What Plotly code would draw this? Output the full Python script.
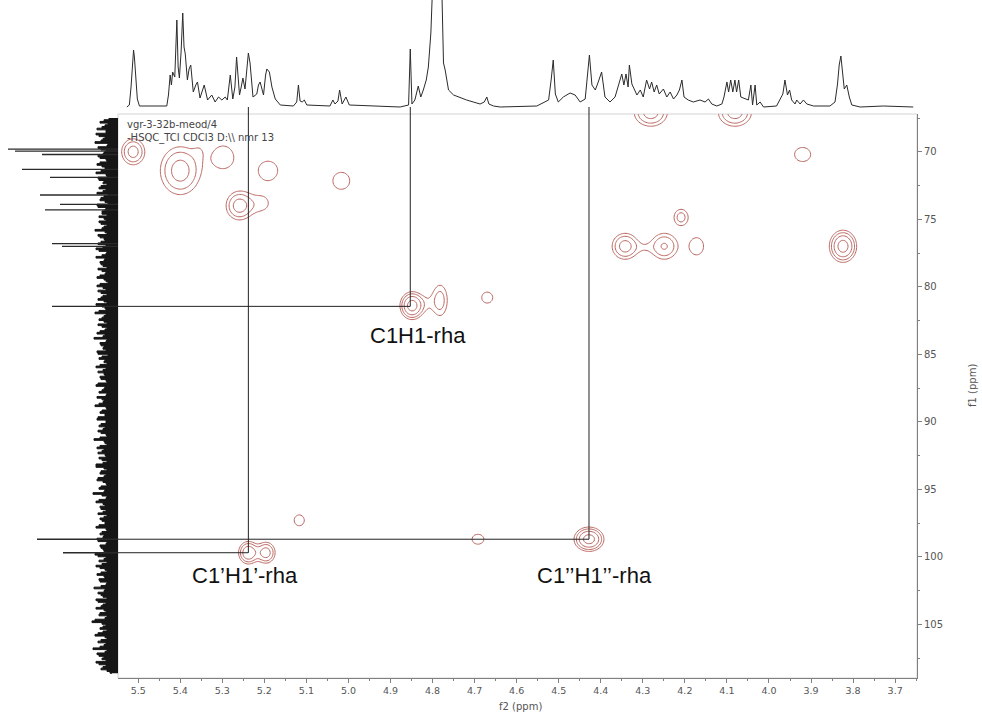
import numpy as np
import plotly.graph_objects as go

# ---------------- 1H projection along f2 (ppm, relative intensity) ----------------
h_ppm = [5.527, 5.521, 5.517, 5.514, 5.511, 5.509, 5.506, 5.502, 5.497,
         5.432, 5.428, 5.424, 5.421, 5.418, 5.413, 5.408, 5.405, 5.402, 5.398,
         5.394, 5.391, 5.388, 5.383, 5.379, 5.375, 5.369, 5.363, 5.359, 5.353,
         5.348, 5.343, 5.335, 5.325, 5.317, 5.309, 5.301, 5.293, 5.288, 5.281,
         5.275, 5.270, 5.266, 5.259, 5.255, 5.251, 5.246, 5.241, 5.238, 5.234,
         5.227, 5.218, 5.214, 5.210, 5.202, 5.197, 5.194, 5.188, 5.182, 5.174,
         5.162, 5.131, 5.123, 5.119, 5.115, 5.110, 5.105, 5.099, 5.044, 5.037,
         5.032, 5.025, 5.021, 5.015, 5.006, 4.998, 4.877, 4.857, 4.853, 4.849,
         4.842, 4.834, 4.828, 4.822, 4.815, 4.810, 4.804, 4.800, 4.790, 4.778,
         4.774, 4.770, 4.762, 4.750, 4.719, 4.687, 4.677, 4.671, 4.666, 4.655,
         4.639, 4.552, 4.524, 4.518, 4.513, 4.508, 4.501, 4.489, 4.473, 4.461,
         4.449, 4.437, 4.432, 4.427, 4.421, 4.413, 4.406, 4.398, 4.390, 4.378,
         4.366, 4.356, 4.350, 4.345, 4.340, 4.335, 4.332, 4.326, 4.321, 4.314,
         4.306, 4.299, 4.291, 4.284, 4.279, 4.273, 4.267, 4.261, 4.251, 4.243,
         4.235, 4.227, 4.219, 4.213, 4.207, 4.202, 4.192, 4.180, 4.164, 4.152,
         4.144, 4.136, 4.124, 4.112, 4.107, 4.100, 4.096, 4.091, 4.086, 4.081,
         4.077, 4.072, 4.067, 4.057, 4.049, 4.043, 4.039, 4.033, 4.029, 4.021,
         4.013, 3.982, 3.974, 3.967, 3.962, 3.956, 3.951, 3.946, 3.938, 3.934,
         3.926, 3.918, 3.910, 3.894, 3.855, 3.843, 3.837, 3.833, 3.829, 3.825,
         3.821, 3.815, 3.809, 3.803, 3.783, 3.728, 3.657]
h_int = [0, 2, 20, 45, 57, 50, 30, 8, 1,
         1, 12, 32, 22, 35, 30, 87, 40, 29, 55,
         94, 60, 53, 27, 38, 42, 15, 22, 25, 9,
         15, 22, 7, 12, 5, 10, 7, 10, 7, 32,
         8, 20, 50, 12, 20, 29, 18, 45, 54, 44,
         10, 13, 22, 25, 12, 32, 38, 35, 20, 8,
         2, 1, 5, 22, 6, 5, 7, 2, 1, 7,
         3, 6, 17, 3, 10, 2, 0, 2, 58, 3,
         7, 21, 10, 17, 27, 40, 74, 120, 180, 120,
         44, 37, 17, 12, 7, 3, 5, 10, 3, 1,
         0, 1, 7, 27, 47, 13, 5, 10, 14, 12,
         5, 8, 33, 52, 22, 17, 25, 35, 10, 5,
         10, 23, 33, 22, 33, 20, 42, 23, 18, 12,
         17, 10, 27, 18, 25, 15, 22, 13, 18, 10,
         15, 8, 12, 17, 27, 10, 7, 5, 7, 5,
         8, 3, 1, 3, 10, 25, 15, 27, 15, 27,
         15, 27, 10, 8, 7, 22, 2, 22, 2, 5,
         0, 1, 7, 13, 27, 12, 17, 7, 3, 7,
         3, 7, 3, 1, 1, 5, 23, 42, 51, 32,
         18, 22, 10, 2, 0, 1, 0]

# ---------------- 13C projection along f1 ----------------
c_noise_start = 67.5      # ppm of first noise sample
c_noise_step = 0.25       # ppm between samples of each list
# samples on the 0.25 ppm grid
c_noise_amp = [9, 18, 13, 21, 12, 19, 15, 23, 11, 17, 14, 20, 12, 18, 16,
               13, 22, 11, 19, 15, 17, 12, 21, 14, 18, 10, 20, 13, 16, 19,
               12, 17, 14, 23, 11, 18, 13, 20, 15, 19, 12, 22, 14, 17, 11,
               16, 13, 21, 12, 18, 15, 20, 11, 17, 14, 22, 13, 19, 12, 16,
               14, 20, 11, 18, 13, 24, 12, 17, 15, 21, 10, 19, 14, 18, 12,
               20, 13, 17, 11, 22, 14, 19, 12, 16, 15, 23, 11, 18, 13, 21,
               12, 19, 15, 17, 11, 24, 13, 18, 14, 20, 12, 16, 15, 22, 11,
               18, 14, 21, 12, 17, 13, 25, 11, 19, 15, 18, 12, 20, 14, 16,
               13, 22, 11, 18, 15, 20, 12, 17, 14, 23, 12, 19, 16, 18, 11,
               21, 13, 18, 12, 24, 14, 17, 11, 20, 15, 22, 12, 19, 13, 26,
               12, 18, 15, 23, 11, 20, 14, 25, 13, 19, 16, 22, 12, 17, 8]
# samples half-way between them
c_noise_amp_mid = [14, 10, 16, 12, 22, 13, 17, 10, 20, 12, 15, 18, 11, 21, 13,
                   17, 12, 20, 14, 11, 19, 15, 10, 17, 13, 21, 12, 16, 11, 14,
                   19, 11, 16, 13, 20, 14, 17, 12, 22, 11, 16, 13, 18, 15, 20,
                   12, 18, 14, 10, 21, 12, 17, 15, 20, 11, 16, 12, 23, 14, 19,
                   11, 16, 13, 21, 15, 11, 18, 14, 12, 20, 16, 13, 11, 22, 15,
                   14, 18, 12, 20, 13, 16, 11, 21, 14, 19, 12, 16, 13, 20, 12,
                   17, 13, 20, 12, 18, 14, 11, 21, 16, 13, 19, 11, 22, 14, 17,
                   12, 20, 15, 11, 19, 14, 16, 12, 22, 13, 17, 15, 11, 18, 13,
                   19, 12, 16, 14, 21, 11, 18, 15, 12, 20, 14, 11, 22, 13, 17,
                   14, 19, 11, 17, 13, 20, 15, 22, 12, 17, 14, 18, 11, 23, 16,
                   15, 11, 20, 13, 17, 12, 18, 11, 21, 14, 12, 19, 15, 11, 6]
c_spike_ppm = [69.8, 69.95, 70.2, 71.3, 71.9, 73.2, 73.9, 74.3, 76.8, 77.0, 81.45, 98.7, 99.7]
c_spike_int = [110, 103, 76, 96, 68, 78, 58, 73, 66, 56, 66, 81, 55]

# ---------------- HSQC cross peaks: f2, f1, height, widths ----------------
pk_f2 = [5.512, 5.400, 5.355, 5.298, 5.191, 5.017, 5.260, 5.207, 4.281, 4.081,
         3.920, 4.209, 4.342, 4.249, 4.296, 4.172, 3.824, 4.849, 4.782, 4.815,
         4.670, 4.428, 5.238, 5.196, 5.117, 4.692]
pk_f1 = [70.0, 71.4, 69.8, 70.4, 71.4, 72.15, 74.0, 73.9, 67.1, 67.1,
         70.2, 74.85, 77.0, 77.0, 77.1, 77.0, 77.0, 81.4, 81.0, 81.2,
         80.8, 98.7, 99.7, 99.7, 97.3, 98.7]
pk_amp = [3.2, 3.2, 0.45, 1.4, 1.25, 1.25, 3.2, 1.15, 3.2, 3.2,
          1.25, 2.0, 3.2, 2.7, 0.6, 1.4, 5.12, 5.12, 2.0, 0.7,
          1.25, 5.12, 4.0, 3.3, 1.25, 1.25]
pk_w2 = [0.0179, 0.031, 0.012, 0.029, 0.034, 0.030, 0.0202, 0.024, 0.0257, 0.0257,
         0.0285, 0.0141, 0.0203, 0.0219, 0.015, 0.020, 0.018, 0.0158, 0.0143, 0.016,
         0.0196, 0.0197, 0.014, 0.014, 0.018, 0.021]
pk_w1 = [0.63, 1.16, 0.5, 1.0, 1.05, 0.94, 0.68, 0.65, 0.66, 0.66,
         0.78, 0.5, 0.63, 0.68, 0.4, 0.77, 0.66, 0.57, 0.94, 0.6,
         0.61, 0.5, 0.5, 0.5, 0.6, 0.55]

# ---------------- assigned anomeric correlations ----------------
asg_name = ["C1H1-rha", "C1\u2019H1\u2019-rha", "C1\u2019\u2019H1\u2019\u2019-rha"]
asg_f2 = [4.853, 5.238, 4.428]
asg_f1 = [81.45, 99.7, 98.7]
asg_label_f2 = [4.835, 5.246, 4.416]
asg_label_f1 = [83.6, 101.4, 101.4]

# ---------------- axis ticks ----------------
f2_ticks = [5.5, 5.4, 5.3, 5.2, 5.1, 5.0, 4.9, 4.8, 4.7, 4.6, 4.5, 4.4, 4.3, 4.2, 4.1, 4.0, 3.9, 3.8, 3.7]
f1_ticks = [70, 75, 80, 85, 90, 95, 100, 105]

F2_RANGE = [5.548, 3.648]
F1_RANGE = [108.98, 67.2]
TOP_RANGE = [-7, 107]
LEFT_RANGE = [118, 0]

W, H = 982, 714
XD = [118 / W, 917 / W]
YD = [1 - 678 / H, 1 - 114 / H]

# ---------------- contour surface from the peak list ----------------
g2 = np.linspace(3.60, 5.60, 720)
g1 = np.linspace(65.0, 110.5, 430)
G2, G1 = np.meshgrid(g2, g1)
S = np.zeros_like(G2)
for p2, p1, a, w2, w1 in zip(pk_f2, pk_f1, pk_amp, pk_w2, pk_w1):
    S += a * np.exp(-0.5 * (((G2 - p2) / w2) ** 2 + ((G1 - p1) / w1) ** 2))
Z = np.round(np.maximum(np.log(S + 1e-6), -2.0), 3)
lvl = float(np.log(1.6))

fig = go.Figure()
fig.add_trace(go.Contour(
    x=g2, y=g1, z=Z, xaxis="x", yaxis="y",
    contours=dict(coloring="none", start=0.0, end=5 * lvl, size=lvl),
    line=dict(color="#bb6660", width=1, smoothing=1),
    showscale=False, hoverinfo="skip",
))

# 1H projection
fig.add_trace(go.Scatter(x=h_ppm, y=h_int, xaxis="x2", yaxis="y2", mode="lines",
                         line=dict(color="#2b2b2b", width=1), hoverinfo="skip"))

# 13C projection: noise band and peaks
noise_x, noise_y = [], []
for i, (a, b) in enumerate(zip(c_noise_amp, c_noise_amp_mid)):
    p = c_noise_start + i * c_noise_step
    noise_x += [a, b]
    noise_y += [p, p + c_noise_step / 2]
fig.add_trace(go.Scatter(x=noise_x, y=noise_y, xaxis="x3", yaxis="y3", mode="lines",
                         fill="tozerox", fillcolor="#161616",
                         line=dict(color="#161616", width=1, shape="vh"), hoverinfo="skip"))
sx, sy = [], []
for p, a in zip(c_spike_ppm, c_spike_int):
    sx += [0, a, None]
    sy += [p, p, None]
fig.add_trace(go.Scatter(x=sx, y=sy, xaxis="x3", yaxis="y3", mode="lines",
                         line=dict(color="#2a2a2a", width=1.3), hoverinfo="skip"))

shapes = [dict(type="rect", xref="x domain", yref="y domain", x0=0, x1=1, y0=0, y1=1,
               line=dict(color="#d4d4d4", width=1), layer="below")]
for f2, f1 in zip(asg_f2, asg_f1):
    shapes.append(dict(type="line", xref="x", yref="y", x0=F2_RANGE[0], x1=f2, y0=f1, y1=f1,
                       line=dict(color="#222222", width=1)))
    shapes.append(dict(type="line", xref="x", yref="y", x0=f2, x1=f2, y0=F1_RANGE[1], y1=f1,
                       line=dict(color="#222222", width=1)))
    shapes.append(dict(type="line", xref="x2", yref="y2", x0=f2, x1=f2, y0=TOP_RANGE[0], y1=0,
                       line=dict(color="#222222", width=1)))

annotations = []
for name, lx, ly in zip(asg_name, asg_label_f2, asg_label_f1):
    annotations.append(dict(x=lx, y=ly, xref="x", yref="y", text=name, showarrow=False,
                            xanchor="center", yanchor="middle",
                            font=dict(family="Liberation Sans, Arial", size=22, color="#111111")))
annotations += [
    dict(x=125 / W, y=1 - 124 / H, xref="paper", yref="paper", text="vgr-3-32b-meod/4",
         showarrow=False, xanchor="left", yanchor="middle",
         font=dict(family="DejaVu Sans", size=10, color="#444444")),
    dict(x=125 / W, y=1 - 138 / H, xref="paper", yref="paper", text="-HSQC_TCI CDCl3 D:\\\\ nmr 13",
         showarrow=False, xanchor="left", yanchor="middle",
         font=dict(family="DejaVu Sans", size=10, color="#444444")),
    dict(x=520 / W, y=1 - 706 / H, xref="paper", yref="paper", text="f2 (ppm)",
         showarrow=False, xanchor="center", yanchor="middle",
         font=dict(family="DejaVu Sans", size=10, color="#555555")),
    dict(x=972 / W, y=1 - 386 / H, xref="paper", yref="paper", text="f1 (ppm)",
         showarrow=False, xanchor="center", yanchor="middle", textangle=-90,
         font=dict(family="DejaVu Sans", size=10, color="#555555")),
]

f2_minor = [round(a - 0.05, 3) for a in f2_ticks] + [round(f2_ticks[-1] - 0.05, 3)]
f1_minor = [v - 2.5 for v in f1_ticks] + [f1_ticks[-1] + 2.5]

axis_common = dict(showgrid=False, zeroline=False, showline=True, linecolor="#808080",
                   linewidth=1, ticks="outside", ticklen=4, tickcolor="#808080")

fig.update_layout(
    width=W, height=H, margin=dict(l=0, r=0, t=0, b=0),
    paper_bgcolor="white", plot_bgcolor="white", showlegend=False,
    xaxis=dict(domain=XD, range=F2_RANGE, anchor="y", tickmode="array",
               tickvals=f2_ticks, ticktext=[f"{v:.1f}" for v in f2_ticks],
               tickfont=dict(family="DejaVu Sans", size=9.5, color="#555555"),
               minor=dict(tickvals=f2_minor, ticks="outside", ticklen=2, tickcolor="#808080"),
               **axis_common),
    yaxis=dict(domain=YD, range=F1_RANGE, anchor="x", side="right", tickmode="array",
               tickvals=f1_ticks, ticktext=[str(v) for v in f1_ticks],
               tickfont=dict(family="DejaVu Sans", size=10, color="#555555"),
               minor=dict(tickvals=f1_minor, ticks="outside", ticklen=2, tickcolor="#808080"),
               **axis_common),
    xaxis2=dict(domain=XD, range=F2_RANGE, anchor="y2", visible=False),
    yaxis2=dict(domain=[YD[1], 1.0], range=TOP_RANGE, anchor="x2", visible=False),
    xaxis3=dict(domain=[0.0, XD[0]], range=LEFT_RANGE, anchor="y3", visible=False),
    yaxis3=dict(domain=YD, range=F1_RANGE, anchor="x3", visible=False),
    shapes=shapes, annotations=annotations,
)

fig.write_html("out.html", config={"displayModeBar": False})
